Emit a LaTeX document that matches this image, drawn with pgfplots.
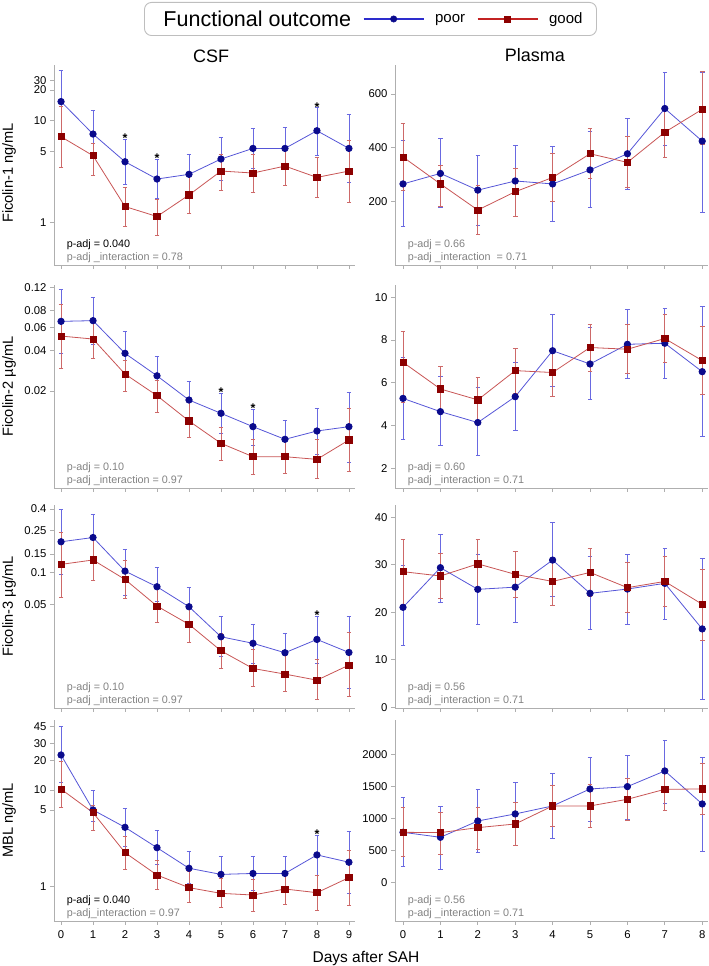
\documentclass[border=0pt]{standalone}
\usepackage{fontspec}
\setmainfont{Liberation Sans}
\usepackage{pgfplots}
\usepackage{pgfplotstable}
\pgfplotsset{compat=1.18}
\definecolor{dblue}{RGB}{10,10,140}
\definecolor{lblue}{RGB}{85,85,215}
\definecolor{eblue}{RGB}{105,105,225}
\definecolor{dred}{RGB}{140,0,0}
\definecolor{lred}{RGB}{200,85,85}
\definecolor{ered}{RGB}{205,105,105}
\definecolor{legblue}{RGB}{45,45,205}
\definecolor{legred}{RGB}{195,35,35}
\definecolor{axgray}{RGB}{175,175,175}
\definecolor{pgray}{RGB}{130,130,130}
\definecolor{leggray}{RGB}{190,190,190}

% columns: day, poor mean/upper/lower, good mean/upper/lower
\pgfplotstableread{
x py pu pl gy gu gl
0 15.4 31.4 7.2 6.97 13.9 3.49
1 7.40 12.5 4.44 4.54 6.0 2.89
2 3.96 6.56 2.39 1.44 2.20 0.93
3 2.68 4.18 1.73 1.15 1.69 0.757
4 2.98 4.68 1.87 1.87 2.82 1.22
5 4.21 6.87 2.62 3.21 4.71 2.09
6 5.35 8.41 3.41 3.07 4.71 1.97
7 5.35 8.60 3.54 3.59 5.48 2.34
8 7.98 13.4 4.61 2.78 4.37 1.76
9 5.35 11.6 2.47 3.21 6.37 1.58
}\csfA
\pgfplotstableread{
x py pu pl gy gu gl
0 266 427 107 366 489 243
1 305 434 179 266 335 181
2 243 373 112 169 262 79
3 277 408 147 237 324 147
4 266 404 128 290 380 200
5 318 460 179 378 473 287
6 378 510 247 346 441 252
7 546 680 409 458 547 365
8 425 679 162 543 683 413
}\plA
\pgfplotstableread{
x py pu pl gy gu gl
0 0.0665 0.1156 0.0383 0.0516 0.0892 0.0296
1 0.0673 0.100 0.045 0.049 0.068 0.0351
2 0.0383 0.0556 0.0267 0.0268 0.0341 0.020
3 0.026 0.0362 0.0187 0.01846 0.0242 0.01383
4 0.01712 0.0238 0.01227 0.01192 0.01636 0.00899
5 0.01361 0.0192 0.00964 0.00811 0.01069 0.00608
6 0.01081 0.01458 0.00784 0.00644 0.00873 0.00478
7 0.00869 0.01213 0.0064 0.00644 0.0087 0.00483
8 0.01003 0.01492 0.00671 0.00615 0.00869 0.00444
9 0.01081 0.01954 0.00581 0.00859 0.01483 0.00498
}\csfB
\pgfplotstableread{
x py pu pl gy gu gl
0 5.27 7.18 3.37 6.96 8.39 5.07
1 4.65 6.29 3.06 5.71 6.76 4.70
2 4.14 5.77 2.58 5.20 6.26 4.10
3 5.35 6.96 3.75 6.57 7.61 5.51
4 7.50 9.22 5.82 6.48 7.60 5.38
5 6.88 8.58 5.23 7.65 8.74 6.52
6 7.80 9.44 6.21 7.57 8.74 6.44
7 7.85 9.47 6.21 8.07 9.20 6.96
8 6.52 9.59 3.51 7.04 8.63 5.48
}\plB
\pgfplotstableread{
x py pu pl gy gu gl
0 0.196 0.396 0.0971 0.1199 0.238 0.0585
1 0.215 0.358 0.132 0.132 0.21 0.0853
2 0.1036 0.166 0.0616 0.0865 0.13 0.0573
3 0.0738 0.112 0.0533 0.0485 0.0712 0.0338
4 0.0478 0.0727 0.0321 0.0326 0.046 0.0219
5 0.0249 0.039 0.01614 0.01837 0.0268 0.0125
6 0.0216 0.0326 0.01396 0.0125 0.0189 0.0084
7 0.0176 0.0268 0.0112 0.01107 0.0165 0.00754
8 0.0235 0.039 0.01396 0.0097 0.0152 0.00638
9 0.0177 0.039 0.0081 0.01345 0.0272 0.00676
}\csfC
\pgfplotstableread{
x py pu pl gy gu gl
0 21.05 29.96 13.0 28.56 35.4 21.75
1 29.4 36.5 22.1 27.65 32.4 22.9
2 24.84 32.1 17.5 30.2 35.4 25.05
3 25.3 32.9 17.9 28.0 32.9 23.2
4 31.0 38.9 23.3 26.5 31.2 21.4
5 24.0 31.7 16.3 28.4 33.5 23.3
6 24.9 32.2 17.5 25.2 30.5 20.0
7 26.1 33.5 18.6 26.5 31.7 21.3
8 16.5 31.4 1.7 21.7 29.1 14.0
}\plC
\pgfplotstableread{
x py pu pl gy gu gl
0 23.0 45.2 11.9 10.2 19.6 6.62
1 6.21 10.0 4.78 5.83 7.0 3.86
2 4.11 6.46 2.59 2.25 3.29 1.51
3 2.53 3.80 1.72 1.32 1.89 0.94
4 1.55 2.30 1.08 0.977 1.43 0.683
5 1.34 2.04 0.853 0.853 1.22 0.607
6 1.37 2.04 0.924 0.82 1.19 0.56
7 1.37 2.04 0.96 0.946 1.30 0.662
8 2.13 3.42 1.32 0.867 1.32 0.574
9 1.79 3.71 0.853 1.24 2.39 0.636
}\csfD
\pgfplotstableread{
x py pu pl gy gu gl
0 781 1328 255 781 1167 401
1 703 1193 203 776 1088 437
2 958 1453 469 854 1172 516
3 1068 1562 583 911 1245 573
4 1193 1703 688 1193 1510 870
5 1458 1953 948 1193 1531 859
6 1495 1990 990 1297 1625 963
7 1740 2224 1234 1453 1781 1120
8 1224 1953 490 1458 1859 1062
}\plD

\pgfplotsset{
  panel/.style={
    scale only axis, clip=false,
    axis x line*=bottom, axis y line*=left,
    axis line style={draw=axgray, line width=0.8pt},
    tick style={draw=axgray, line width=0.8pt},
    tick align=outside, major tick length=4pt,
    tick label style={font=\fontsize{11.3}{13}\selectfont, text=black},
    yticklabel style={inner ysep=0pt},
    xtick={0,1,2,3,4,5,6,7,8,9}, xticklabels={},
    ylabel style={at={(axis description cs:-0.149,0.5)}, anchor=center, font=\fontsize{14.6}{17}\selectfont},
  },
  leftpanel/.style={panel, width=301pt, xmin=-0.22, xmax=9.19},
  rightpanel/.style={panel, width=313pt, xmin=-0.214, xmax=8.155, xtick={0,1,2,3,4,5,6,7,8}},
  poorsty/.style={color=lblue, line width=0.8pt, mark=*, mark size=3.2pt,
    mark options={draw=dblue, fill=dblue, solid, sharp corners},
    error bars/y dir=both, error bars/y explicit,
    error bars/error bar style={color=eblue, line width=0.8pt},
    error bars/error mark options={rotate=90, mark size=2.3pt, color=eblue, line width=0.8pt}},
  goodsty/.style={color=lred, line width=0.8pt, mark=square*, mark size=3.1pt,
    mark options={draw=dred, fill=dred, solid, sharp corners},
    error bars/y dir=both, error bars/y explicit,
    error bars/error bar style={color=ered, line width=0.8pt},
    error bars/error mark options={rotate=90, mark size=2.3pt, color=ered, line width=0.8pt}},
}
\newcommand{\panelplots}[1]{%
  \addplot[poorsty, forget plot] table[x=x, y=py, y error plus expr=\thisrow{pu}-\thisrow{py}, y error minus expr=\thisrow{py}-\thisrow{pl}] {#1};
  \addplot[goodsty, forget plot] table[x=x, y=gy, y error plus expr=\thisrow{gu}-\thisrow{gy}, y error minus expr=\thisrow{gy}-\thisrow{gl}] {#1};
}
\newcommand{\ptext}[3]{%
  \node[anchor=base west, inner sep=0pt, font=\fontsize{10.8}{12}\selectfont, text=#1] at ([yshift=17pt]rel axis cs:#3,0) {#2};}
\newcommand{\itext}[2]{%
  \node[anchor=base west, inner sep=0pt, font=\fontsize{10.8}{12}\selectfont, text=pgray] at ([yshift=4.5pt]rel axis cs:#2,0) {#1};}
\newcommand{\sig}[2]{%
  \node[anchor=base, yshift=-3.6pt, font=\fontsize{12.5}{13}\selectfont\bfseries] at (axis cs:#1,#2) {*};}

\begin{document}
\begin{tikzpicture}
\useasboundingbox (0pt,0pt) rectangle (709pt,966pt);

% Row 1 left
\begin{axis}[leftpanel, ymode=log, at={(54pt,701pt)}, anchor=south west, height=200pt,
  ymin=0.3848, ymax=35.2, ytick={1,5,10,20,24.7}, yticklabels={1,5,10,20,30},
  ylabel={Ficolin-1 ng/mL}, ylabel style={at={(axis description cs:-0.149,0.46)}},
  legend columns=3,
  legend style={at={(axis description cs:1.0515,1.23)}, anchor=center, draw=leggray, line width=0.9pt,
    rounded corners=7pt, inner xsep=12pt, inner ysep=6pt,
    /tikz/every even column/.append style={column sep=10pt},
    /tikz/every odd column/.append style={column sep=5pt}},
]
\addlegendimage{empty legend}
\addlegendentry{\fontsize{21.5}{24}\selectfont Functional outcome\hspace{25pt}}
\addlegendimage{legend image code/.code={%
  \begin{scope}[sharp corners]
  \pgfsetstrokecolor{legblue}
  \draw[color=legblue, draw=legblue, line width=1.1pt] (0pt,0pt) -- (60pt,0pt);
  \path[draw=dblue, fill=dblue, line width=0.5pt] (30pt,0pt) circle (3.2pt);
  \path (64pt,0pt);
  \end{scope}}}
\addlegendentry{\fontsize{15}{17}\selectfont poor}
\addlegendimage{legend image code/.code={%
  \begin{scope}[sharp corners]
  \pgfsetstrokecolor{legred}
  \draw[color=legred, draw=legred, line width=1.1pt] (0pt,0pt) -- (60pt,0pt);
  \path[draw=dred, fill=dred, line width=0.5pt] (27pt,-3pt) rectangle (33pt,3pt);
  \path (64pt,0pt);
  \end{scope}}}
\addlegendentry{\fontsize{15}{17}\selectfont good\hspace{13pt}}
\panelplots{\csfA}
\sig{2}{6.56}\sig{3}{4.18}\sig{8}{13.4}
\ptext{black}{p-adj = 0.040}{0.042}
\itext{p-adj \_interaction = 0.78}{0.042}
\node[anchor=base, font=\fontsize{18}{20}\selectfont] at ([yshift=2pt]rel axis cs:0.5216,1) {CSF};
\end{axis}

% Row 1 right
\begin{axis}[rightpanel, at={(395pt,701pt)}, anchor=south west, height=200pt,
  ymin=-35, ymax=707.7, ytick={200,400,600}, yticklabels={200,400,600}]
\panelplots{\plA}
\ptext{pgray}{p-adj = 0.66}{0.0405}
\itext{p-adj \_interaction \ = 0.71}{0.0405}
\node[anchor=base, font=\fontsize{18}{20}\selectfont] at ([yshift=3pt]rel axis cs:0.447,1) {Plasma};
\end{axis}

% Row 2 left
\begin{axis}[leftpanel, ymode=log, at={(54pt,478pt)}, anchor=south west, height=203pt,
  ymin=0.003753, ymax=0.1245, ytick={0.02,0.04,0.06,0.08,0.12}, yticklabels={0.02,0.04,0.06,0.08,0.12},
  ylabel={Ficolin-2 µg/mL}]
\panelplots{\csfB}
\sig{5}{0.0192}\sig{6}{0.01458}
\ptext{pgray}{p-adj = 0.10}{0.042}
\itext{p-adj \_interaction = 0.97}{0.042}
\end{axis}

% Row 2 right
\begin{axis}[rightpanel, at={(395pt,478pt)}, anchor=south west, height=203pt,
  ymin=1.078, ymax=10.575, ytick={2,4,6,8,10}, yticklabels={2,4,6,8,10}]
\panelplots{\plB}
\ptext{pgray}{p-adj = 0.60}{0.0405}
\itext{p-adj \_interaction = 0.71}{0.0405}
\end{axis}

% Row 3 left
\begin{axis}[leftpanel, ymode=log, at={(54pt,258pt)}, anchor=south west, height=203pt,
  ymin=0.0053, ymax=0.4355, ytick={0.05,0.1,0.15,0.25,0.4}, yticklabels={0.05,0.1,0.15,0.25,0.4},
  ylabel={Ficolin-3 µg/mL}]
\panelplots{\csfC}
\sig{8}{0.039}
\ptext{pgray}{p-adj = 0.10}{0.042}
\itext{p-adj \_interaction = 0.97}{0.042}
\end{axis}

% Row 3 right
\begin{axis}[rightpanel, at={(395pt,258pt)}, anchor=south west, height=203pt,
  ymin=-0.15, ymax=42.6, ytick={0,10,20,30,40}, yticklabels={0,10,20,30,40}]
\panelplots{\plC}
\ptext{pgray}{p-adj = 0.56}{0.0405}
\itext{p-adj \_interaction = 0.71}{0.0405}
\end{axis}

% Row 4 left
\begin{axis}[leftpanel, ymode=log, at={(54pt,45pt)}, anchor=south west, height=201pt,
  ymin=0.4417, ymax=52.9, ytick={1,6.2,10,20,30,45}, yticklabels={1,5,10,20,30,45},
  xticklabels={0,1,2,3,4,5,6,7,8,9}, xticklabel style={yshift=-2pt},
  ylabel={MBL ng/mL}]
\panelplots{\csfD}
\sig{8}{3.42}
\ptext{black}{p-adj = 0.040}{0.042}
\itext{p-adj\_interaction = 0.97}{0.042}
\end{axis}

% Row 4 right
\begin{axis}[rightpanel, at={(395pt,45pt)}, anchor=south west, height=201pt,
  ymin=-605, ymax=2536, ytick={0,500,1000,1500,2000}, yticklabels={0,500,1000,1500,2000},
  xticklabels={0,1,2,3,4,5,6,7,8}, xticklabel style={yshift=-2pt}]
\panelplots{\plD}
\ptext{pgray}{p-adj = 0.56}{0.0405}
\itext{p-adj \_interaction = 0.71}{0.0405}
\end{axis}

\node[anchor=base, font=\fontsize{15.5}{18}\selectfont] at (366pt,3pt) {Days after SAH};
\end{tikzpicture}
\end{document}
